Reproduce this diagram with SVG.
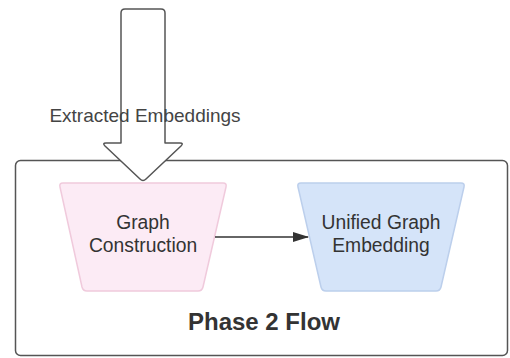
<svg xmlns="http://www.w3.org/2000/svg" width="510" height="358" viewBox="0 0 510 358">
  <style>
    .lbl { font-family: "Liberation Sans", Arial, sans-serif; font-size: 19.3px; fill: #333333; text-anchor: middle; }
    .title { font-family: "Liberation Sans", Arial, sans-serif; font-size: 24px; font-weight: bold; fill: #333333; text-anchor: middle; }
    .edge { fill: none; stroke: #333333; stroke-width: 1.3; }
  </style>
  <defs>
    <marker id="ah" markerWidth="16" markerHeight="10" refX="15" refY="5" orient="auto" markerUnits="userSpaceOnUse">
      <path d="M0,0 L16,5 L0,10 Z" fill="#333333"/>
    </marker>
  </defs>
  <rect width="510" height="358" fill="#ffffff"/>
  <g id="phase2-container">
    <rect x="15.5" y="160.5" width="492" height="195" rx="5" ry="5" fill="#ffffff" stroke="#555555" stroke-width="1.5"/>
    <text class="title" x="264" y="330">Phase 2 Flow</text>
  </g>
  <g id="extracted-embeddings">
    <path d="M125,9 L161,9 Q165,9 165,13 L165,143 L180,143 Q184,143 181,146 L146,179 Q143,182 140,179 L105,146 Q102,143 106,143 L121,143 L121,13 Q121,9 125,9 Z" fill="#ffffff" stroke="#555555" stroke-width="1.5" stroke-linejoin="round"/>
    <text x="145" y="122" font-family="Liberation Sans, Arial, sans-serif" font-size="19" fill="#444444" text-anchor="middle">Extracted Embeddings</text>
  </g>
  <g id="graph-construction">
    <path d="M63,183 L223,183 Q227,183 226,187 L203,287 Q202,291 198,291 L87,291 Q83,291 82,287 L60,187 Q59,183 63,183 Z" fill="#fcebf5" stroke="#f0cadc" stroke-width="1.5"/>
    <text class="lbl" x="143" y="229">Graph</text>
    <text class="lbl" x="143" y="252">Construction</text>
  </g>
  <g id="unified-graph-embedding">
    <path d="M301,183 L461,183 Q465,183 464,187 L441,287 Q440,291 436,291 L326,291 Q322,291 321,287 L298,187 Q297,183 301,183 Z" fill="#d5e4f9" stroke="#bccfec" stroke-width="1.5"/>
    <text class="lbl" x="381" y="229">Unified Graph</text>
    <text class="lbl" x="381" y="252">Embedding</text>
  </g>
  <g id="connectors">
    <line class="edge" x1="215" y1="237" x2="308" y2="237" marker-end="url(#ah)"/>
  </g>
</svg>
